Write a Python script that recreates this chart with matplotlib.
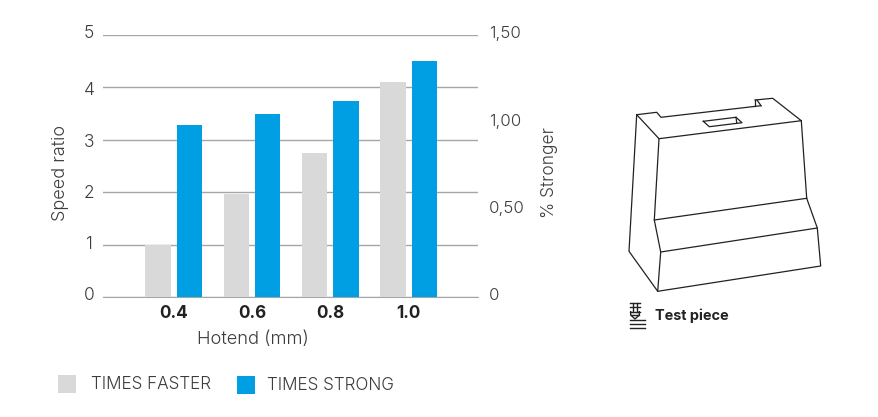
import numpy as np
import matplotlib.pyplot as plt

W, H = 879, 417

hotend = ['0.4', '0.6', '0.8', '1.0']
times_faster = [1.0, 1.96, 2.75, 4.1]
times_strong = [0.985, 1.05, 1.12, 1.35]  # read on the right axis

speed_ticks = [0, 1, 2, 3, 4, 5]
stronger_ticks = [0, 0.5, 1.0, 1.5]
stronger_labels = ['0', '0,50', '1,00', '1,50']

GRAY = '#d9d9d9'
BLUE = '#009fe3'
TXT = '#3c3c3c'

# the labels do not sit quite on their gridlines in the original
speed_label_y = [295.5, 244.5, 193.5, 142.5, 90.5, 33.5]
stronger_label_y = [295.5, 208.5, 121.5, 33.5]

# test piece outline, pixels of the picture
piece_lines = [
    [(636.7, 114.7), (656.7, 112.3), (661, 117.3), (761, 105.7)],
    [(755, 100), (772.7, 98.3), (801.3, 120.7), (659, 138.7), (636.7, 114.7)],
    [(636.7, 114.7), (629, 251.3), (657.7, 291.3), (820.7, 266), (817.3, 228),
     (806.7, 198.3), (801.3, 120.7)],
    [(659, 138.7), (654.3, 220), (660.7, 252), (657.7, 291.3)],
    [(654.3, 220), (806.7, 198.3)],
    [(660.7, 252), (817.3, 228)],
    [(703.3, 121.3), (736, 117.3), (742, 122.7), (709.3, 126.7), (703.3, 121.3)],
    [(736, 117.3), (736.7, 122.7)],
    [(755, 100), (755, 105.7)],
    [(757, 100), (761, 105.7)],
]
icon_lines = [
    [(630, 320), (645, 320)],
    [(630, 324.3), (645, 324.3)],
    [(630, 328), (645, 328)],
    [(630, 302.7), (640, 302.7)],
    [(630, 306.7), (640, 306.7)],
    [(630, 311.7), (640, 311.7)],
    [(632.7, 302.7), (632.7, 311.7)],
    [(637.3, 302.7), (637.3, 311.7)],
    [(630.7, 311.7), (630.7, 315), (635, 319), (639.3, 315), (639.3, 311.7)],
    [(630.7, 315), (639.3, 315)],
]

plt.rcParams['font.family'] = ['Inter', 'DejaVu Sans']
plt.rcParams['font.weight'] = 300

fig = plt.figure(figsize=(W / 100, H / 100), dpi=100)
ax = fig.add_axes([103 / W, 1 - 297 / H, 375 / W, 262 / H])
ax2 = ax.twinx()

x = np.arange(len(hotend))
ax.set_axisbelow(True)
ax.grid(axis='y', color='#a6a6a6', lw=1)
ax.bar(x - 0.2, times_faster, 0.326, color=GRAY, zorder=3)
ax2.bar(x + 0.2, times_strong, 0.326, color=BLUE, zorder=3)

ax.set_xlim(-0.903, 3.886)
ax.set_ylim(0, 5)
ax2.set_ylim(0, 1.5)
ax.set_xticks(x, hotend, fontsize=12.3, fontweight='bold', color='#222222')
ax.set_yticks(speed_ticks, [''] * len(speed_ticks))
ax2.set_yticks(stronger_ticks, [''] * len(stronger_ticks))
ax.tick_params(axis='x', length=0, pad=6)
ax.tick_params(axis='y', length=0)
ax2.tick_params(axis='y', length=0)
for a in (ax, ax2):
    for s in a.spines.values():
        s.set_visible(False)
ax.spines['bottom'].set_visible(True)
ax.spines['bottom'].set_color('#a6a6a6')

# everything else is placed in picture pixels
over = fig.add_axes([0, 0, 1, 1], facecolor='none')
over.set_xlim(0, W)
over.set_ylim(H, 0)
over.axis('off')

for v, y in zip(speed_ticks, speed_label_y):
    over.text(89, y, str(v), ha='center', va='center', fontsize=12.5, color=TXT)
for lab, y in zip(stronger_labels, stronger_label_y):
    over.text(489, y, lab, ha='left', va='center', fontsize=12.2, color=TXT)

over.text(253, 340, 'Hotend (mm)', ha='center', va='center', fontsize=13.2, color=TXT)
over.text(61, 172.5, 'Speed ratio', rotation=90, ha='center', va='center', fontsize=13, color=TXT)
over.text(550, 173, '% Stronger', rotation=90, ha='center', va='center', fontsize=12.5, color=TXT)

over.add_patch(plt.Rectangle((58, 375), 18, 18, color=GRAY, lw=0))
over.add_patch(plt.Rectangle((237, 375.5), 18, 18, color=BLUE, lw=0))
over.text(91, 384.5, 'TIMES FASTER', va='center', fontsize=12.3, color=TXT)
over.text(267, 385.5, 'TIMES STRONG', va='center', fontsize=12.3, color=TXT)

for line in piece_lines:
    xs, ys = zip(*line)
    over.plot(xs, ys, color='#222222', lw=0.9)
for line in icon_lines:
    xs, ys = zip(*line)
    over.plot(xs, ys, color='#222222', lw=1)
over.text(655, 316, 'Test piece', va='center', fontsize=10.4, fontweight='bold', color='#222222')

fig.savefig('out.png', dpi=100)
